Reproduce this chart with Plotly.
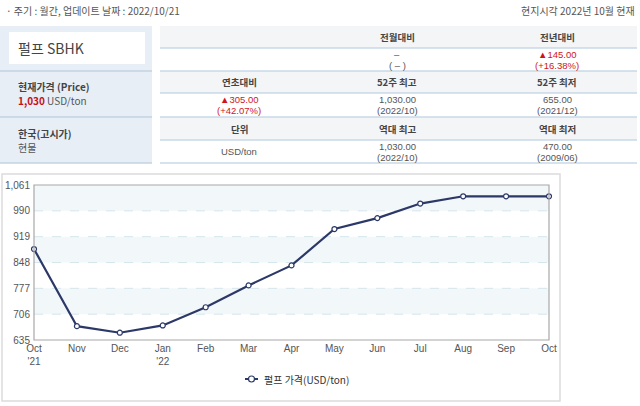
import plotly.graph_objects as go

# ---- data ----
months = ["Oct<br>'21", "Nov", "Dec", "Jan<br>'22", "Feb", "Mar", "Apr", "May", "Jun", "Jul", "Aug", "Sep", "Oct"]
prices = [885, 673, 655, 675, 725, 785, 840, 940, 970, 1010, 1030, 1030, 1030]
y_ticks = [635, 706, 777, 848, 919, 990, 1061]
y_tick_text = ["635", "706", "777", "848", "919", "990", "1,061"]
series_name = "펄프 가격(USD/ton)"

header_left = "· 주기 : 월간, 업데이트 날짜 : 2022/10/21"
header_right = "현지시각 2022년 10월 현재"
title = "펄프 SBHK"
table_headers = [["", "전월대비", "전년대비"], ["연초대비", "52주 최고", "52주 최저"], ["단위", "역대 최고", "역대 최저"]]
table_values = [[[], ["–", "( – )"], ["▲145.00", "(+16.38%)"]],
                [["▲305.00", "(+42.07%)"], ["1,030.00", "(2022/10)"], ["655.00", "(2021/12)"]],
                [["USD/ton"], ["1,030.00", "(2022/10)"], ["470.00", "(2009/06)"]]]
red_cells = {(0, 2), (1, 0)}

# ---- layout geometry (pixels) ----
W, H = 640, 406
L, R, T, B = 34, 549, 185, 340
KR = "Noto Sans CJK KR"
LAT = "Liberation Sans"
LINE_COLOR = "#2c3968"

def px(x):
    return (x - L) / (R - L)

def py(y):
    return (B - y) / (B - T)

x_idx = list(range(len(months)))

fig = go.Figure()
fig.add_trace(go.Scatter(
    x=x_idx, y=prices, mode="lines+markers", name=series_name,
    line=dict(color=LINE_COLOR, width=2.2),
    marker=dict(symbol="circle", size=5, color="white", line=dict(color=LINE_COLOR, width=1.2)),
    cliponaxis=False, showlegend=False,
))

shapes = []
annotations = []

def text(x, y, s, size=10, color="#555", xanchor="center", family=KR):
    annotations.append(dict(x=px(x), y=py(y), xref="paper", yref="paper", text=s, showarrow=False,
                            xanchor=xanchor, yanchor="middle", align="center",
                            font=dict(family=family, size=size, color=color)))

# bands in the plot area
for lo, hi in [(990, 1061), (848, 919), (706, 777)]:
    shapes.append(dict(type="rect", xref="paper", yref="y", x0=0, x1=1, y0=lo, y1=hi,
                       fillcolor="#f2f7f9", line=dict(width=0), layer="below"))
# dashed gridlines
for v in y_ticks[1:-1]:
    shapes.append(dict(type="line", xref="paper", yref="y", x0=0, x1=1, y0=v, y1=v,
                       line=dict(color="#d5e6ec", width=1, dash="dash"), layer="below"))
# plot border
shapes.append(dict(type="rect", xref="paper", yref="paper", x0=0, x1=1, y0=0, y1=1,
                   line=dict(color="#a8a8a8", width=1.2), fillcolor="rgba(0,0,0,0)"))
# outer chart box
shapes.append(dict(type="rect", xref="paper", yref="paper", x0=px(2), x1=px(560), y0=py(174), y1=py(401),
                   line=dict(color="#dcdcdc", width=1.5), fillcolor="rgba(0,0,0,0)", layer="below"))

# custom legend
shapes.append(dict(type="line", xref="paper", yref="paper", x0=px(245), x1=px(258), y0=py(379), y1=py(379),
                   line=dict(color=LINE_COLOR, width=2)))
shapes.append(dict(type="circle", xref="paper", yref="paper", x0=px(248.5), x1=px(254.5), y0=py(376), y1=py(382),
                   line=dict(color=LINE_COLOR, width=1.2), fillcolor="white"))
text(262, 379, series_name, size=10, color="#333", xanchor="left")

# left panel
shapes.append(dict(type="rect", xref="paper", yref="paper", x0=px(0), x1=px(152), y0=py(26), y1=py(163),
                   fillcolor="#e7eef6", line=dict(width=0)))
shapes.append(dict(type="rect", xref="paper", yref="paper", x0=px(9), x1=px(145), y0=py(32), y1=py(64),
                   fillcolor="white", line=dict(width=0)))
for yy in [71, 117, 163]:
    shapes.append(dict(type="line", xref="paper", yref="paper", x0=px(0), x1=px(152), y0=py(yy), y1=py(yy),
                       line=dict(color="#c3d3e3", width=1.5)))

# right table
row_edges = [26, 48, 71, 93, 117, 140, 163]
for i in range(3):
    shapes.append(dict(type="rect", xref="paper", yref="paper", x0=px(160), x1=px(637),
                       y0=py(row_edges[2 * i]), y1=py(row_edges[2 * i + 1]),
                       fillcolor="#f4f5f6", line=dict(width=0)))
for yy in row_edges[1:]:
    shapes.append(dict(type="line", xref="paper", yref="paper", x0=px(160), x1=px(637), y0=py(yy), y1=py(yy),
                       line=dict(color="#c8d9e8", width=1.3)))

col_centers = [239, 397, 557]
for i in range(3):
    hy = (row_edges[2 * i] + row_edges[2 * i + 1]) / 2
    dy = (row_edges[2 * i + 1] + row_edges[2 * i + 2]) / 2
    for j in range(3):
        if table_headers[i][j]:
            text(col_centers[j], hy, "<b>" + table_headers[i][j] + "</b>", size=9.5, color="#444")
        lines = table_values[i][j]
        col = "#d0141c" if (i, j) in red_cells else "#555"
        if len(lines) == 1:
            text(col_centers[j], dy, lines[0], size=9.5, color=col, family=LAT)
        elif len(lines) == 2:
            text(col_centers[j], dy - 5.5, lines[0], size=9.5, color=col, family=LAT)
            text(col_centers[j], dy + 5.5, lines[1], size=9.5, color=col, family=LAT)

# header texts
text(4, 10, header_left, xanchor="left")
text(637, 10, header_right, xanchor="right")
text(16, 48, title, size=14, color="#444", xanchor="left")
text(16, 87, "<b>현재가격 (Price)</b>", color="#444", xanchor="left")
text(16, 101, "<b><span style='color:#c8101a'>1,030</span></b> USD/ton", xanchor="left")
text(16, 133, "<b>한국(고시가)</b>", color="#444", xanchor="left")
text(16, 147, "현물", xanchor="left")

fig.update_layout(
    width=W, height=H,
    margin=dict(l=L, r=W - R, t=T, b=H - B, pad=0, autoexpand=False),
    paper_bgcolor="white", plot_bgcolor="white",
    shapes=shapes, annotations=annotations,
    showlegend=False,
    xaxis=dict(range=[0, len(months) - 1], tickmode="array", tickvals=x_idx, ticktext=months,
               showgrid=False, zeroline=False, showline=False, ticks="", automargin=False,
               ticklabelstandoff=1,
               tickfont=dict(family=LAT, size=10, color="#555")),
    yaxis=dict(range=[635, 1061], tickmode="array", tickvals=y_ticks, ticktext=y_tick_text,
               showgrid=False, zeroline=False, showline=False, ticks="", automargin=False,
               ticklabelstandoff=3,
               tickfont=dict(family=LAT, size=10, color="#555")),
)

fig.write_html("out.html")
